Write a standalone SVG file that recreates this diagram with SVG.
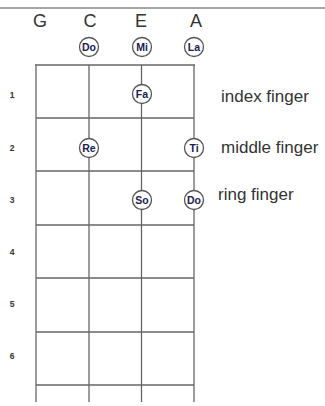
<svg xmlns="http://www.w3.org/2000/svg" width="325" height="406" viewBox="0 0 325 406">
<style>
.str{font-family:"Liberation Sans",Arial,sans-serif;font-size:18px;fill:#333}
.fret{font-family:"Liberation Sans",Arial,sans-serif;font-size:8.5px;font-weight:bold;fill:#333}
.fing{font-family:"Liberation Sans",Arial,sans-serif;font-size:17px;fill:#333}
.note circle{fill:#fff;stroke:#555;stroke-width:1.3}
.note text{font-family:"Liberation Sans",Arial,sans-serif;font-size:10.5px;font-weight:bold;fill:#1a2050;text-anchor:middle}
.grid line{stroke:#666;stroke-width:1.3}
</style>
<rect width="325" height="406" fill="#fff"/>
<line x1="0" y1="8" x2="325" y2="8" stroke="#888" stroke-width="1.5"/>
<g id="strings-labels" class="str" text-anchor="middle">
<text x="40" y="27">G</text>
<text x="90" y="27">C</text>
<text x="141" y="27">E</text>
<text x="196" y="27">A</text>
</g>
<g id="grid" class="grid">
<line x1="36" y1="65" x2="36" y2="402"/>
<line x1="89" y1="65" x2="89" y2="402"/>
<line x1="141.5" y1="65" x2="141.5" y2="402"/>
<line x1="194" y1="65" x2="194" y2="402"/>
<line x1="36" y1="118" x2="194" y2="118"/>
<line x1="36" y1="171" x2="194" y2="171"/>
<line x1="36" y1="225" x2="194" y2="225"/>
<line x1="36" y1="278" x2="194" y2="278"/>
<line x1="36" y1="332" x2="194" y2="332"/>
<line x1="36" y1="385" x2="194" y2="385"/>
<line x1="35" y1="65" x2="195" y2="65" stroke="#222" stroke-width="3"/>
</g>
<g id="fret-numbers" class="fret" text-anchor="middle">
<text x="12" y="98">1</text>
<text x="12" y="151">2</text>
<text x="12" y="203">3</text>
<text x="12" y="255">4</text>
<text x="12" y="307">5</text>
<text x="12" y="359">6</text>
</g>
<g id="note-do-open" class="note"><circle cx="89" cy="47" r="9.5"/><text x="89" y="50.5">Do</text></g>
<g id="note-mi" class="note"><circle cx="142" cy="47" r="9.5"/><text x="142" y="50.5">Mi</text></g>
<g id="note-la" class="note"><circle cx="194" cy="47" r="9.5"/><text x="194" y="50.5">La</text></g>
<g id="note-fa" class="note"><circle cx="142" cy="94" r="9.5"/><text x="142" y="97.5">Fa</text></g>
<g id="note-re" class="note"><circle cx="89" cy="148" r="9.5"/><text x="89" y="151.5">Re</text></g>
<g id="note-ti" class="note"><circle cx="194" cy="148" r="9.5"/><text x="194" y="151.5">Ti</text></g>
<g id="note-so" class="note"><circle cx="142" cy="200" r="9.5"/><text x="142" y="203.5">So</text></g>
<g id="note-do" class="note"><circle cx="194" cy="200" r="9.5"/><text x="194" y="203.5">Do</text></g>
<g id="finger-labels" class="fing">
<text x="221" y="102">index finger</text>
<text x="221" y="153">middle finger</text>
<text x="218" y="200">ring finger</text>
</g>
</svg>
